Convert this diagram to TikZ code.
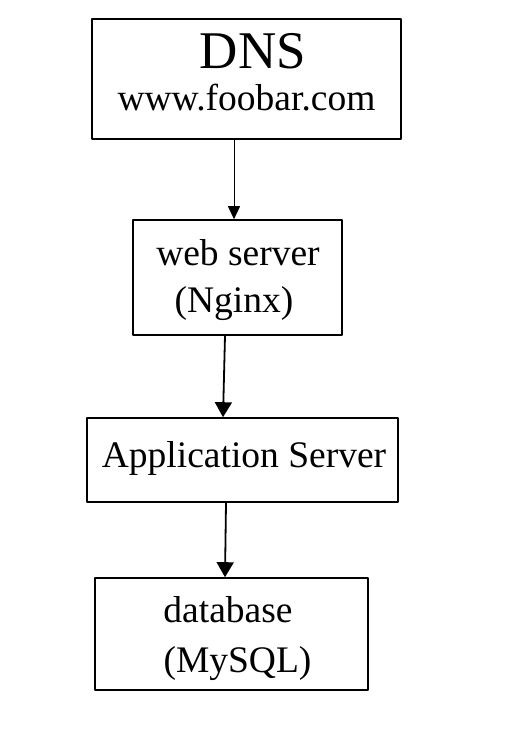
\documentclass[tikz,border=0pt]{standalone}
\usepackage{fontspec}
\setmainfont{Liberation Serif}
\usetikzlibrary{arrows.meta}

\begin{document}
\begin{tikzpicture}[line cap=round,line join=round,x=1pt,y=-1pt,
		box/.style={draw,line width=1.6pt,rectangle,inner sep=0pt},
		label/.style={anchor=base,inner sep=0pt,font=\fontsize{37.5}{40}\selectfont},
		thin arrow/.style={line width=0.9pt,-{Triangle[length=13pt,width=12pt]}},
		thick arrow/.style={line width=1.8pt,-{Triangle[length=15pt,width=17pt]}}]
		\useasboundingbox (0,0) rectangle (525,747);
		\node[box,minimum width=309pt,minimum height=120pt] (dns) at (246.5,79) {};
		\node[box,minimum width=209pt,minimum height=115pt] (web) at (237.5,277.5) {};
		\node[box,minimum width=311pt,minimum height=84pt] (app) at (242.5,460) {};
		\node[box,minimum width=273pt,minimum height=112pt] (db) at (231.5,634) {};
		\node[label,font=\fontsize{53}{58}\selectfont] (dnstitle) at (253,68) {DNS};
		\node[label] (dnsurl) at (246.5,110) {www.foobar.com};
		\node[label] (webtitle) at (238,265) {web server};
		\node[label] (webname) at (234,312) {(Nginx)};
		\node[label] (apptitle) at (244,467) {Application Server};
		\node[label] (dbtitle) at (228,622) {database};
		\node[label] (dbname) at (237.5,672) {(MySQL)};
		\draw [thin arrow] ([xshift=-12.5pt]dns.south) -- ([xshift=-3.5pt]web.north);
		\draw [thick arrow] ([xshift=-12.5pt]web.south) -- ([xshift=-19.5pt]app.north);
		\draw [thick arrow] ([xshift=-16.5pt]app.south) -- ([xshift=-6.5pt]db.north);
	\end{tikzpicture}
\end{document}
